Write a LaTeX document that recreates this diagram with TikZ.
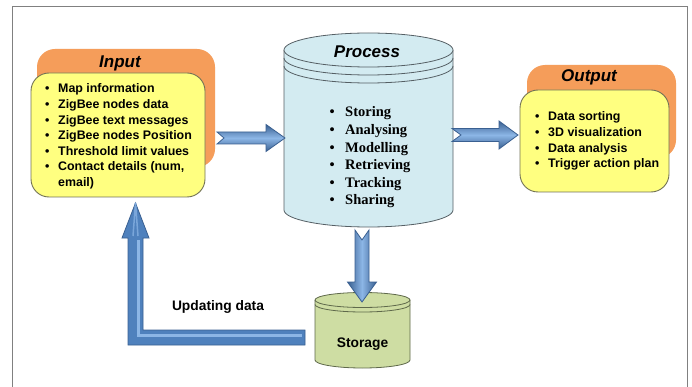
\documentclass[tikz,border=0pt]{standalone}
\usepackage{fontspec}
\setmainfont{Liberation Sans}
\newfontfamily\procfont{Liberation Serif}
\usetikzlibrary{calc}
\definecolor{frameC}{RGB}{128,128,128}
\definecolor{orangeC}{RGB}{245,157,90}
\definecolor{yellowC}{RGB}{255,255,128}
\definecolor{yellowE}{RGB}{115,115,85}
\definecolor{cylC}{RGB}{211,235,241}
\definecolor{cylE}{RGB}{85,95,100}
\definecolor{storC}{RGB}{206,221,163}
\definecolor{storE}{RGB}{95,105,75}
\definecolor{arrC}{RGB}{79,129,189}
\definecolor{arrD}{RGB}{58,96,145}
\definecolor{arrL}{RGB}{140,182,230}
\newcommand\bul{\makebox[13pt][l]{\textbullet}}
\newcommand\pbul{\makebox[15.5pt][l]{\textbullet}}
\newcommand\harrow[6]{%
  \path[harr] (#1) ++(0,-#4) -- ++(#2-#3,0) -- ++(0,#4-#5) -- ++(#3,#5) -- ++(-#3,#5)
    -- ++(0,#4-#5) -- ++(#3-#2,0) -- ++(#6,-#4) -- cycle;}
\newcommand\varrow[6]{%
  \path[varr] (#1) ++(-#4,0) -- ++(0,#2-#3) -- ++(#4-#5,0) -- ++(#5,#3) -- ++(#5,-#3)
    -- ++(#4-#5,0) -- ++(0,#3-#2) -- ++(-#4,#6) -- cycle;}
\begin{document}
\begin{tikzpicture}[x=1pt,y=-1pt,
  backbox/.style={fill=orangeC, rounded corners=18pt, inner sep=0pt},
  frontbox/.style={fill=yellowC, draw=yellowE, line width=0.9pt, rounded corners=18pt, inner sep=0pt},
  title/.style={font=\fontsize{17}{20}\selectfont\bfseries\itshape, inner sep=0pt},
  listtext/.style={font=\fontsize{12.4}{15.6}\selectfont\bfseries, inner sep=0pt, anchor=base west},
  proctext/.style={font=\procfont\fontsize{14.5}{17.6}\selectfont\bfseries, inner sep=0pt, anchor=base west},
  label/.style={font=\fontsize{13.8}{16}\selectfont\bfseries, inner sep=0pt},
  cyl/.style={fill=cylC, draw=cylE, line width=0.8pt},
  stor/.style={fill=storC, draw=storE, line width=0.8pt},
  harr/.style={draw=arrD, line width=0.8pt, top color=arrD, bottom color=arrD, middle color=arrL},
  varr/.style={draw=arrD, line width=0.8pt, left color=arrD, right color=arrD, middle color=arrL},
  larr/.style={fill=arrC, draw=arrD, line width=0.8pt}]
\useasboundingbox (0,0) rectangle (692,387);
\fill[white] (0,0) rectangle (692,387);
\draw[frameC, line width=1pt] (12,390) -- (12,7) -- (687,7) -- (687,390);

% Input
\node[backbox, minimum width=178pt, minimum height=118pt] (inBack) at (126,108) {};
\node[frontbox, minimum width=174pt, minimum height=124pt] (inBox) at (118,135) {};
\node[title] (inTitle) at (120,63) {Input};
\node[listtext] (inList) at (45,93) {\begin{tabular}[t]{@{}l@{}}
\bul Map information\\
\bul ZigBee nodes data\\
\bul ZigBee text messages\\
\bul ZigBee nodes Position\\
\bul Threshold limit values\\
\bul Contact details (num,\\
\hspace*{13pt}email)
\end{tabular}};

% Output
\node[backbox, minimum width=149pt, minimum height=93pt] (outBack) at (601.5,111.5) {};
\node[frontbox, minimum width=149pt, minimum height=102pt] (outBox) at (594.5,141) {};
\node[title] (outTitle) at (589,77) {Output};
\node[listtext] (outList) at (535,121) {\begin{tabular}[t]{@{}l@{}}
\bul Data sorting\\
\bul 3D visualization\\
\bul Data analysis\\
\bul Trigger action plan
\end{tabular}};

% Process cylinder
\node[inner sep=0pt, minimum width=169pt, minimum height=194pt] (proc) at (368.5,130) {};
\path[cyl] (284,50) -- (284,210) arc[start angle=180, end angle=0, x radius=84.5, y radius=17] -- (453,50);
\path[cyl] (368.5,50) ellipse[x radius=84.5, y radius=17];
\draw[cylE, line width=0.8pt] (284,58) arc[start angle=180, end angle=0, x radius=84.5, y radius=17];
\draw[cylE, line width=0.8pt] (284,66) arc[start angle=180, end angle=0, x radius=84.5, y radius=17];
\node[title] (procTitle) at (367,52) {Process};
\node[proctext] (procList) at (329.5,117) {\begin{tabular}[t]{@{}l@{}}
\pbul Storing\\
\pbul Analysing\\
\pbul Modelling\\
\pbul Retrieving\\
\pbul Tracking\\
\pbul Sharing
\end{tabular}};

% Storage cylinder
\path[stor] (315,300) -- (315,360) arc[start angle=180, end angle=0, x radius=47.5, y radius=8] -- (410,300);
\path[stor] (362.5,300) ellipse[x radius=47.5, y radius=7.5];
\draw[storE, line width=0.8pt] (315,304.5) arc[start angle=180, end angle=0, x radius=47.5, y radius=7.5];
\node[label] (stor) at (362.5,344) {Storage};

% Block arrows
\coordinate (a1) at (217,138);
\harrow{a1}{68}{19}{6}{13.5}{7}
\coordinate (a2) at (452,135);
\harrow{a2}{66}{19}{6.5}{14}{9}
\coordinate (a3) at (362,230);
\varrow{a3}{72}{20}{7}{14.5}{10}

% L-shaped return arrow
\coordinate (lTail) at (305,337.5);
\coordinate (lCorner) at (135.5,337.5);
\coordinate (lTip) at (135.5,203);
\path[larr] (305,330) -- (143,330) -- (143,238) -- (149,238) -- (lTip) -- (122,238) -- (128,238)
  -- (128,345) -- (305,345) -- cycle;
\draw[arrL, line width=3pt] ($(lTail)+(-3,-2)$) -- ($(lCorner)+(3,-2)$) -- (138.5,240);
\draw[arrL!70!arrC, line width=1.5pt, line join=miter] (133,236) -- (lTip) -- (138,236);

\node[label] (upd) at (218,307) {Updating data};
\end{tikzpicture}
\end{document}
